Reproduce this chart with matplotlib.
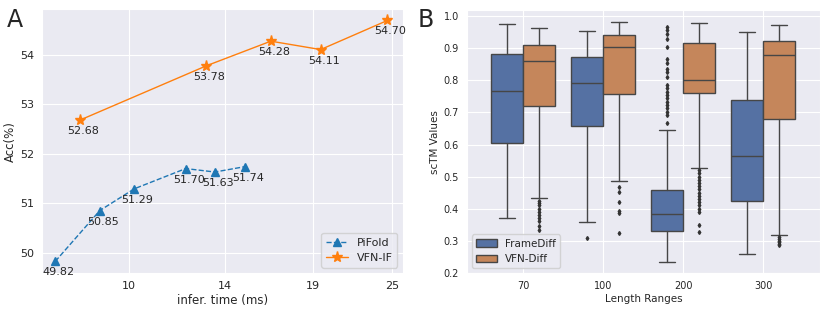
import matplotlib
matplotlib.use("Agg")
import matplotlib.pyplot as plt
import seaborn as sns
from matplotlib.ticker import NullLocator, FixedLocator, FixedFormatter
from matplotlib.patches import Patch

sns.set_style("darkgrid")
plt.rcParams["font.family"] = ["DejaVu Sans"]

# panel A data
pifold_time = [7.75, 9.05, 10.2, 12.2, 13.5, 15.0]
pifold_acc = [49.82, 50.85, 51.29, 51.70, 51.63, 51.74]
vfn_time = [8.44, 13.1, 16.4, 19.5, 24.6]
vfn_acc = [52.68, 53.78, 54.28, 54.11, 54.70]
time_ticks = [10, 14, 19, 25]

# panel B data (box stats)
length_ranges = ["70", "100", "200", "300"]
fd_q1 = [0.605, 0.658, 0.330, 0.425]
fd_med = [0.768, 0.792, 0.383, 0.565]
fd_q3 = [0.882, 0.873, 0.458, 0.738]
fd_lo = [0.372, 0.357, 0.233, 0.258]
fd_hi = [0.975, 0.953, 0.645, 0.950]
fd_fliers = [
    [],
    [0.307],
    [0.967, 0.957, 0.946, 0.930, 0.904, 0.868, 0.853, 0.837, 0.827, 0.811,
     0.785, 0.775, 0.764, 0.754, 0.744, 0.733, 0.723, 0.713, 0.702, 0.692, 0.666],
    [],
]
vd_q1 = [0.720, 0.758, 0.760, 0.680]
vd_med = [0.860, 0.903, 0.800, 0.878]
vd_q3 = [0.912, 0.941, 0.916, 0.922]
vd_lo = [0.432, 0.485, 0.527, 0.318]
vd_hi = [0.965, 0.982, 0.978, 0.973]
vd_fliers = [
    [0.425, 0.418, 0.41, 0.40, 0.39, 0.38, 0.37, 0.36, 0.345, 0.333],
    [0.466, 0.451, 0.421, 0.393, 0.385, 0.323],
    [0.52, 0.51, 0.50, 0.49, 0.48, 0.47, 0.46, 0.45, 0.44, 0.43, 0.42, 0.41,
     0.40, 0.39, 0.349, 0.328],
    [0.31, 0.305, 0.30, 0.295, 0.29, 0.285],
]

blue = "#1f77b4"
orange = "#ff7f0e"
fd_color = "#5571a3"
vd_color = "#c5865b"
edge = "#464646"

fig = plt.figure(figsize=(8.31, 3.13), dpi=100)

# ---- panel A
ax1 = fig.add_axes([0.050, 0.127, 0.435, 0.844])
ax1.plot(pifold_time, pifold_acc, "--", color=blue, marker="^", markersize=6,
         linewidth=1, label="PiFold")
ax1.plot(vfn_time, vfn_acc, "-", color=orange, marker="*", markersize=8,
         linewidth=1, label="VFN-IF")
for x, y in zip(pifold_time + vfn_time, pifold_acc + vfn_acc):
    ax1.annotate(f"{y:.2f}", (x, y), xytext=(3, -11), textcoords="offset pixels",
                 ha="center", va="center", fontsize=8)
ax1.set_xscale("log")
ax1.xaxis.set_major_locator(FixedLocator(time_ticks))
ax1.xaxis.set_major_formatter(FixedFormatter([str(t) for t in time_ticks]))
ax1.xaxis.set_minor_locator(NullLocator())
ax1.set_xlim(7.39, 25.97)
ax1.set_ylim(49.58, 54.93)
ax1.set_yticks([50, 51, 52, 53, 54])
ax1.tick_params(labelsize=8, pad=2)
ax1.set_xlabel("infer. time (ms)", fontsize=8.5, labelpad=2)
ax1.set_ylabel("Acc(%)", fontsize=8.5, labelpad=2)
ax1.legend(loc="lower right", fontsize=8)

# ---- panel B
ax2 = fig.add_axes([0.5616, 0.127, 0.4254, 0.841])
for i in range(len(length_ranges)):
    stats = [
        dict(med=fd_med[i], q1=fd_q1[i], q3=fd_q3[i], whislo=fd_lo[i],
             whishi=fd_hi[i], fliers=fd_fliers[i]),
        dict(med=vd_med[i], q1=vd_q1[i], q3=vd_q3[i], whislo=vd_lo[i],
             whishi=vd_hi[i], fliers=vd_fliers[i]),
    ]
    bp = ax2.bxp(stats, positions=[i - 0.2, i + 0.2], widths=0.4,
                 patch_artist=True, manage_ticks=False,
                 boxprops=dict(edgecolor=edge, linewidth=1),
                 whiskerprops=dict(color=edge, linewidth=1),
                 capprops=dict(color=edge, linewidth=1),
                 medianprops=dict(color=edge, linewidth=1),
                 flierprops=dict(marker="d", markersize=2, markerfacecolor="#333333",
                                 markeredgecolor="#333333"))
    bp["boxes"][0].set_facecolor(fd_color)
    bp["boxes"][1].set_facecolor(vd_color)
ax2.set_xticks(range(len(length_ranges)))
ax2.set_xticklabels(length_ranges)
ax2.set_xlim(-0.71, 3.71)
ax2.set_ylim(0.198, 1.02)
ax2.set_yticks([0.2, 0.3, 0.4, 0.5, 0.6, 0.7, 0.8, 0.9, 1.0])
ax2.tick_params(labelsize=7, pad=2)
ax2.set_xlabel("Length Ranges", fontsize=7.5, labelpad=2)
ax2.set_ylabel("scTM Values", fontsize=7.5, labelpad=3)
ax2.legend(handles=[Patch(facecolor=fd_color, edgecolor=edge, label="FrameDiff"),
                    Patch(facecolor=vd_color, edgecolor=edge, label="VFN-Diff")],
           loc="lower left", fontsize=7.5)

fig.text(0.008, 0.975, "A", fontsize=17, va="top")
fig.text(0.503, 0.975, "B", fontsize=17, va="top")

fig.savefig("out.png", dpi=100)
